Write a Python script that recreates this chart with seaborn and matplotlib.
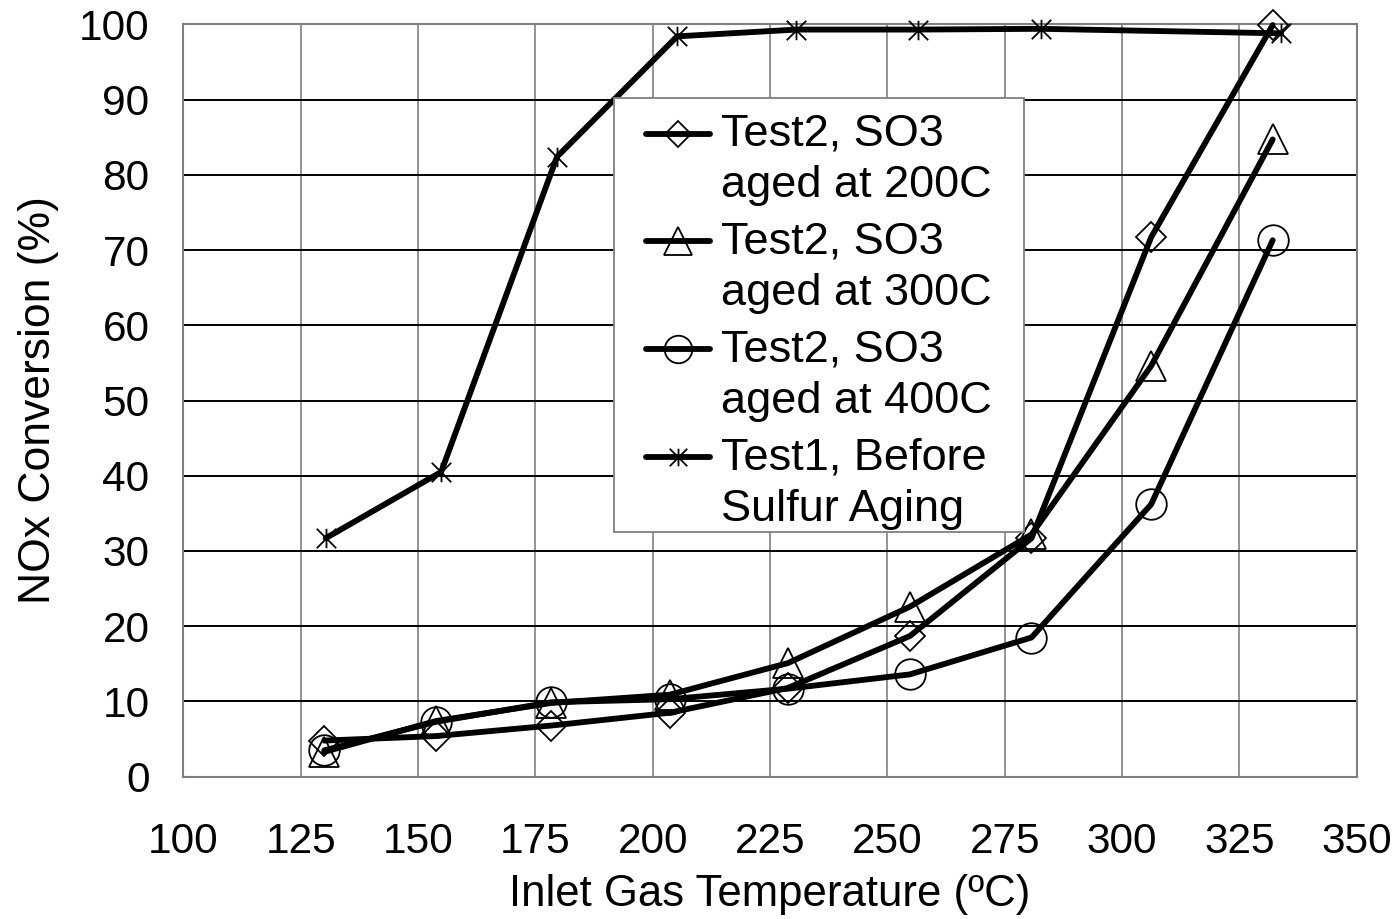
import numpy as np
import pandas as pd
import matplotlib
matplotlib.use("Agg")
import matplotlib.pyplot as plt
from matplotlib.path import Path
from matplotlib.patches import Rectangle
from matplotlib.lines import Line2D
from matplotlib.legend_handler import HandlerLine2D
import seaborn as sns

# Inlet gas temperatures (ºC) and NOx conversion (%) for each test
temp_test2 = [130.0, 153.8, 178.4, 203.6, 228.8, 254.8, 280.7, 306.2, 332.1]
nox_so3_200 = [4.8, 5.4, 6.8, 8.5, 11.8, 18.7, 31.7, 71.7, 99.9]
nox_so3_300 = [3.3, 7.4, 9.8, 10.9, 15.1, 22.6, 32.2, 54.6, 84.7]
nox_so3_400 = [3.5, 7.3, 9.9, 10.3, 11.7, 13.6, 18.5, 36.2, 71.3]

temp_test1 = [130.3, 154.9, 179.6, 205.2, 230.6, 256.6, 282.7, 333.9]
nox_before = [31.7, 40.5, 82.4, 98.4, 99.3, 99.3, 99.4, 98.8]

series_labels = [
    "Test2, SO3\naged at 200C",
    "Test2, SO3\naged at 300C",
    "Test2, SO3\naged at 400C",
    "Test1, Before\nSulfur Aging",
]

x_ticks = list(range(100, 351, 25))
y_ticks = list(range(0, 101, 10))

# Excel-style asterisk: an X through the corners plus a vertical bar
asterisk = Path(
    [(-1, -1), (1, 1), (-1, 1), (1, -1), (0, -1), (0, 1)],
    [Path.MOVETO, Path.LINETO, Path.MOVETO, Path.LINETO, Path.MOVETO, Path.LINETO],
)


class FirstLineHandler(HandlerLine2D):
    """Legend line handle raised to sit beside the first line of a two-line label."""

    def __init__(self, lift, **kw):
        super().__init__(**kw)
        self.lift = lift

    def create_artists(self, legend, orig_handle, xdescent, ydescent,
                       width, height, fontsize, trans):
        arts = super().create_artists(legend, orig_handle, xdescent, ydescent,
                                      width, height, fontsize, trans)
        for a in arts:
            a.set_ydata(np.asarray(a.get_ydata(), dtype=float) + self.lift)
        return arts


sns.set_theme(style="white")
plt.rcParams["font.family"] = ["Liberation Sans", "DejaVu Sans"]
plt.rcParams["axes.unicode_minus"] = False
plt.rcParams["text.color"] = "black"

fig = plt.figure(figsize=(13.97, 9.19), dpi=100)
ax = fig.add_axes([0.13135, 0.15484, 0.83980, 0.81871])

frames = [
    pd.DataFrame({"temp": temp_test2, "nox": nox_so3_200}),
    pd.DataFrame({"temp": temp_test2, "nox": nox_so3_300}),
    pd.DataFrame({"temp": temp_test2, "nox": nox_so3_400}),
    pd.DataFrame({"temp": temp_test1, "nox": nox_before}),
]
markers = ["D", "^", "o", asterisk]
msizes = [15, 22, 22, 14]

for df, lab, mk, ms in zip(frames, series_labels, markers, msizes):
    sns.lineplot(
        data=df, x="temp", y="nox", ax=ax, color="black", linewidth=4.2,
        marker=mk, markersize=ms, markerfacecolor="none",
        markeredgecolor="black", markeredgewidth=1.3,
        label=lab, clip_on=False, zorder=3, sort=False,
    )

ax.set_xlim(100, 350)
ax.set_ylim(0, 100)
ax.set_xticks(x_ticks)
ax.set_yticks(y_ticks)
ax.set_xticklabels([str(v) for v in x_ticks])
ax.set_yticklabels([str(v) for v in y_ticks])

# Grid: black horizontal lines, grey vertical lines
ax.grid(False)
ax.yaxis.grid(True, color="black", linewidth=1.4)
ax.xaxis.grid(True, color="#808080", linewidth=1.2)
ax.set_axisbelow(True)

for side in ["left", "bottom", "top", "right"]:
    ax.spines[side].set_visible(True)
    ax.spines[side].set_color("#808080")
    ax.spines[side].set_linewidth(1.5)

ax.tick_params(axis="both", which="major", direction="out", length=9.5,
               width=1.2, color="#808080", labelsize=30.5, labelcolor="black")
ax.tick_params(axis="x", pad=23)
ax.tick_params(axis="y", pad=15)

ax.set_xlabel("Inlet Gas Temperature (ºC)", fontsize=31.5, color="black", labelpad=9)
ax.set_ylabel("NOx Conversion (%)", fontsize=32, color="black", labelpad=14)

handles, labels = ax.get_legend_handles_labels()
leg = ax.legend(
    handles, labels, loc="upper left", bbox_to_anchor=(0.394, 0.8815),
    borderaxespad=0, frameon=False, fontsize=32.5, borderpad=0,
    handlelength=1.43, handletextpad=0.24, labelspacing=0.34,
    markerscale=0.9, handler_map={Line2D: FirstLineHandler(lift=19)},
)
for t in leg.get_texts():
    t.set_linespacing(1.33)
    t.set_color("black")
leg.set_zorder(6)

# White box behind the legend, padded wider than the text block
fig.canvas.draw()
bb = leg.get_window_extent(fig.canvas.get_renderer())
inv = fig.transFigure.inverted()
(x0, y0) = inv.transform((bb.x0 - 32, bb.y0 - 2))
(x1, y1) = inv.transform((bb.x1 + 32, bb.y1 + 15))
box = Rectangle((x0, y0), x1 - x0, y1 - y0, transform=fig.transFigure,
                facecolor="white", edgecolor="#808080", linewidth=1.3, zorder=5)
ax.add_artist(box)
box.set_clip_on(False)

fig.savefig("out.png", dpi=100, facecolor="white")
